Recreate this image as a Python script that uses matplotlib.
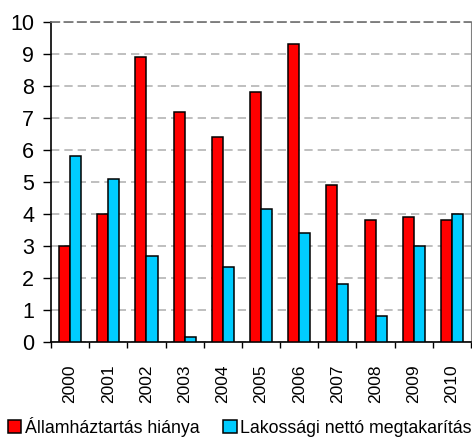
import numpy as np
import matplotlib
matplotlib.use('Agg')
import matplotlib.pyplot as plt

years = ['2000', '2001', '2002', '2003', '2004', '2005',
         '2006', '2007', '2008', '2009', '2010']
deficit = [3.0, 4.0, 8.9, 7.2, 6.4, 7.8, 9.3, 4.9, 3.8, 3.9, 3.8]
savings = [5.8, 5.1, 2.7, 0.15, 2.35, 4.15, 3.4, 1.8, 0.8, 3.0, 4.0]
labels = ['Államháztartás hiánya', 'Lakossági nettó megtakarítás']

plt.rcParams['font.family'] = ['Liberation Sans', 'DejaVu Sans']

fig = plt.figure(figsize=(4.72, 4.38), dpi=100)
ax = fig.add_axes([0.108, 0.219, 0.89, 0.731])

x = np.arange(len(years))
w = 0.29
ax.bar(x - w / 2, deficit, w, color='#ff0000', edgecolor='black', lw=1.1,
       label=labels[0], zorder=3)
ax.bar(x + w / 2, savings, w, color='#00ccff', edgecolor='black', lw=1.1,
       label=labels[1], zorder=3)

ax.set_xlim(-0.5, len(years) - 0.5)
ax.set_ylim(0, 10)
ax.set_yticks(range(0, 11))
ax.tick_params(axis='y', labelsize=15.5, length=6, width=1, pad=6)
ax.yaxis.grid(True, color='#b4b4b4', ls=(0, (5, 3)), lw=1.2, zorder=0)

# year labels centred, tick marks between categories
ax.set_xticks(x)
ax.set_xticklabels(years, rotation=90, fontsize=12.5)
ax.tick_params(axis='x', length=0, pad=16)
ax.set_xticks(np.arange(-0.5, len(years)), minor=True)
ax.tick_params(axis='x', which='minor', length=4, width=1)

ax.spines['left'].set_linewidth(1.2)
ax.spines['bottom'].set_linewidth(1.2)
ax.spines['right'].set_color('#808080')
ax.spines['top'].set_color('#707070')
ax.spines['top'].set_linestyle((0, (5, 3)))
ax.spines['top'].set_linewidth(1.2)

fig.legend(loc='lower left', bbox_to_anchor=(-0.006, -0.022), ncol=2,
           frameon=False, fontsize=12.8, handlelength=0.75, handleheight=0.75,
           handletextpad=0.2, columnspacing=1.35, borderaxespad=0.2)

fig.savefig('out.png', dpi=100)
